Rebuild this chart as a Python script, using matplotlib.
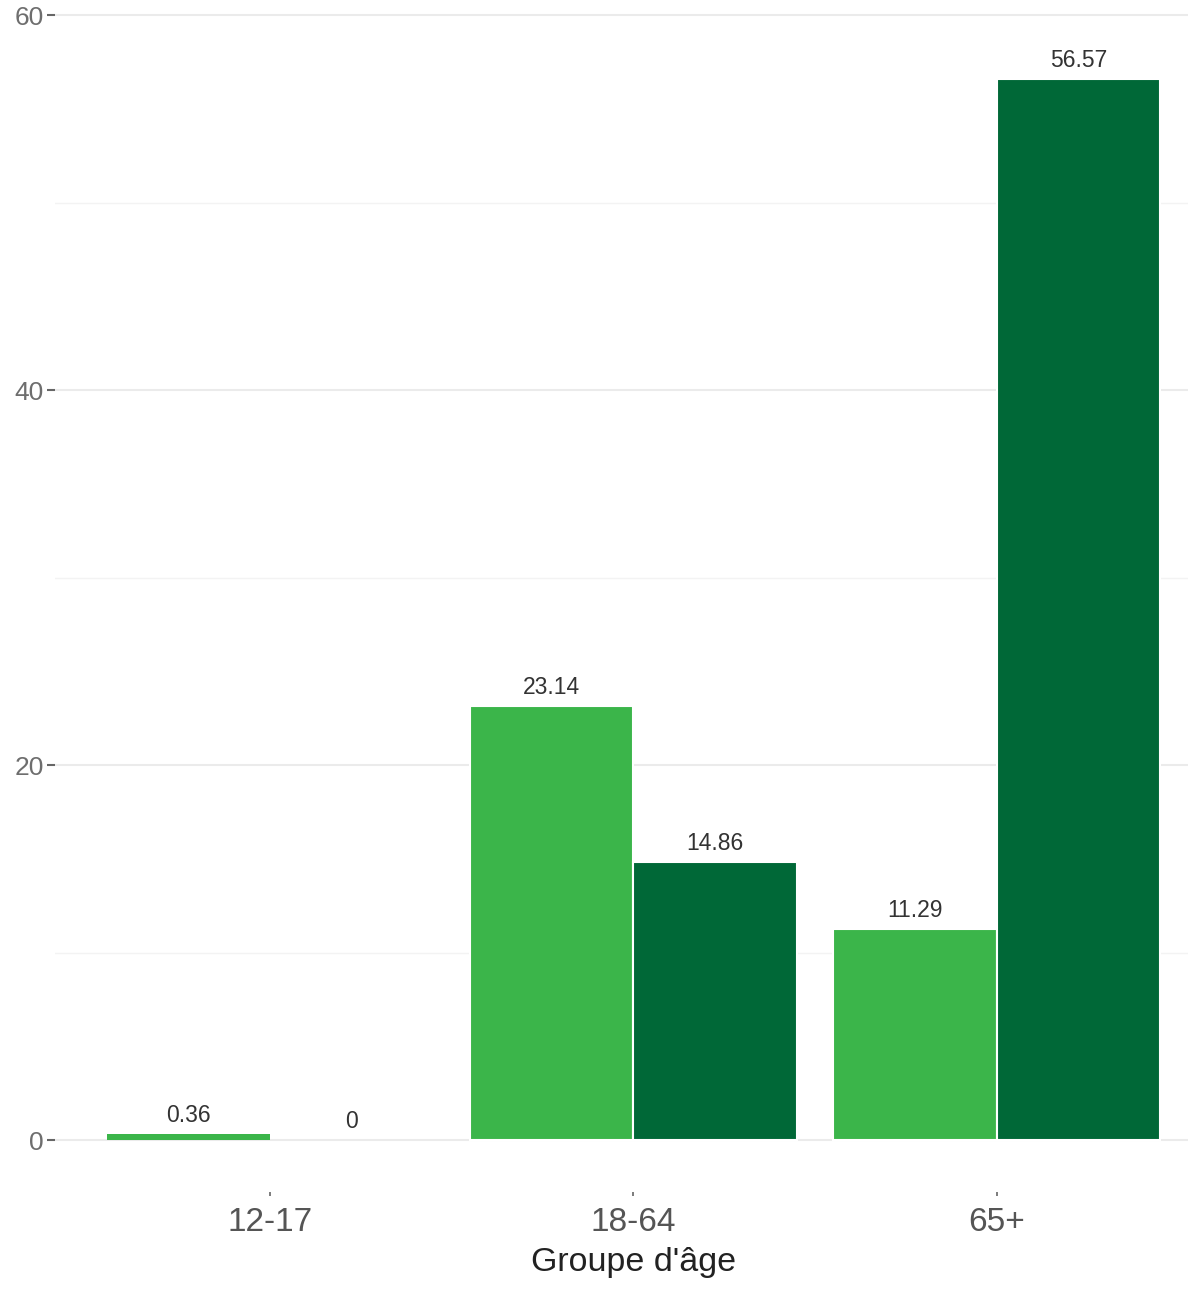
import matplotlib
matplotlib.use("Agg")
import matplotlib.pyplot as plt
import numpy as np

plt.rcParams['font.family'] = ['Liberation Sans', 'DejaVu Sans']

groups = ["12-17", "18-64", "65+"]
series_light = [0.36, 23.14, 11.29]
series_dark = [0.0, 14.86, 56.57]
y_ticks = [0, 20, 40, 60]
y_minor = [10, 30, 50]
x_title = "Groupe d'âge"

light_color = "#3BB54A"
dark_color = "#006837"

fig = plt.figure(figsize=(12, 12.96), dpi=100)
ax = fig.add_axes([55/1200, 1 - 1192/1296, (1188-55)/1200, 1192/1296])

x = np.arange(1, len(groups) + 1)
w = 0.45
b1 = ax.bar(x - w/2, series_light, width=w, color=light_color, edgecolor="white",
            linewidth=[1.5 if v > 1 else 0 for v in series_light], zorder=3)
b2 = ax.bar(x + w/2, series_dark, width=w, color=dark_color, edgecolor="white",
            linewidth=[1.5 if v > 1 else 0 for v in series_dark], zorder=3)

for bars, vals in ((b1, series_light), (b2, series_dark)):
    for rect, v in zip(bars, vals):
        lbl = f"{v:g}" if v != int(v) else f"{int(v)}"
        ax.annotate(lbl, (rect.get_x() + rect.get_width()/2, v), xytext=(0, 5),
                    textcoords="offset points", ha="center", va="bottom",
                    fontsize=16.5, color="#333333", zorder=4)

ax.set_xlim(0.408, 3.526)
ax.set_ylim(-2.75, 60.8)
ax.set_yticks(y_ticks)
ax.set_yticks(y_minor, minor=True)
ax.set_xticks(x)
ax.set_xticklabels(groups)
ax.grid(which="major", axis="y", color="#EBEBEB", linewidth=1.5, zorder=0)
ax.grid(which="minor", axis="y", color="#F3F3F3", linewidth=1.0, zorder=0)
ax.tick_params(axis="y", which="major", length=6, width=1.5, color="#666666",
               labelsize=19, labelcolor="#6E6E6E", pad=2)
ax.tick_params(axis="y", which="minor", length=0)
ax.tick_params(axis="x", length=3, width=1.2, color="#666666",
               labelsize=24, labelcolor="#555555", pad=8)
for s in ax.spines.values():
    s.set_visible(False)
ax.set_xlabel(x_title, fontsize=24.5, color="#222222")
ax.xaxis.set_label_coords((2 - 0.408) / (3.526 - 0.408), -0.046)

fig.savefig("out.png", dpi=100)
